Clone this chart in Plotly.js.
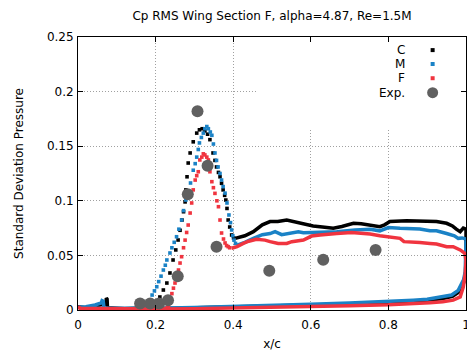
<!DOCTYPE html>
<html>
<head>
<meta charset="utf-8">
<script src="https://cdn.plot.ly/plotly-3.0.1.min.js"></script>
<style>html,body{margin:0;padding:0;background:#fff;}#chart{width:467px;height:356px;}</style>
</head>
<body>
<div id="chart"></div>
<script>
// ---------- Data ----------
// C (black): upper surface before transition, peak region, after peak, lower surface (TE -> LE)
const cLowX  = [0.0, 0.02, 0.04, 0.06, 0.070, 0.072, 0.073, 0.075, 0.076, 0.09, 0.12, 0.15, 0.18, 0.20, 0.206];
const cLowY  = [0.003, 0.002, 0.003, 0.005, 0.007, 0.004, 0.011, 0.010, 0.002, 0.0015, 0.0012, 0.0015, 0.002, 0.004, 0.0073];
const cPeakX = [0.206, 0.211, 0.220, 0.229, 0.237, 0.245, 0.252, 0.258, 0.263, 0.268, 0.272, 0.276, 0.278, 0.281, 0.284, 0.289, 0.297, 0.306, 0.313, 0.320, 0.327, 0.334, 0.340, 0.348, 0.353, 0.357, 0.362, 0.366, 0.370, 0.374, 0.378, 0.381, 0.384, 0.387, 0.391, 0.396, 0.401];
const cPeakY = [0.0073, 0.0119, 0.0183, 0.0247, 0.0339, 0.0458, 0.055, 0.0641, 0.073, 0.0824, 0.090, 0.099, 0.110, 0.122, 0.1346, 0.1438, 0.154, 0.162, 0.165, 0.166, 0.164, 0.161, 0.156, 0.1438, 0.137, 0.131, 0.126, 0.122, 0.116, 0.110, 0.105, 0.1007, 0.093, 0.0824, 0.076, 0.0687, 0.066];
const cAftX  = [0.405, 0.43, 0.452, 0.475, 0.495, 0.515, 0.538, 0.555, 0.572, 0.606, 0.63, 0.658, 0.68, 0.71, 0.73, 0.753, 0.778, 0.79, 0.804, 0.847, 0.899, 0.924, 0.95, 0.965, 0.975, 0.985, 0.993, 1.0];
const cAftY  = [0.0656, 0.068, 0.0717, 0.078, 0.081, 0.081, 0.0824, 0.081, 0.0794, 0.0769, 0.076, 0.0748, 0.0765, 0.0794, 0.079, 0.0778, 0.0763, 0.078, 0.081, 0.0818, 0.081, 0.081, 0.0794, 0.077, 0.074, 0.0717, 0.075, 0.074];
const cBotX  = [1.0, 0.999, 0.995, 0.989, 0.98, 0.965, 0.94, 0.9, 0.85, 0.8, 0.7, 0.6, 0.5, 0.4, 0.3, 0.2, 0.1, 0.05, 0.01, 0.0];
const cBotY  = [0.05, 0.035, 0.026, 0.020, 0.016, 0.0125, 0.0105, 0.0088, 0.0078, 0.0068, 0.0055, 0.0045, 0.0035, 0.0026, 0.0018, 0.0012, 0.001, 0.001, 0.0015, 0.003];

// M (blue)
const mLowX  = [0.0, 0.02, 0.044, 0.06, 0.062, 0.065, 0.067, 0.09, 0.12, 0.15, 0.17, 0.18, 0.186];
const mLowY  = [0.0025, 0.003, 0.0046, 0.0065, 0.0085, 0.008, 0.002, 0.0012, 0.0012, 0.0015, 0.003, 0.0055, 0.0092];
const mPeakX = [0.186, 0.191, 0.197, 0.203, 0.208, 0.214, 0.220, 0.225, 0.229, 0.237, 0.242, 0.248, 0.254, 0.260, 0.267, 0.272, 0.278, 0.284, 0.290, 0.297, 0.302, 0.306, 0.310, 0.313, 0.318, 0.323, 0.327, 0.332, 0.336, 0.341, 0.345, 0.349, 0.353, 0.357, 0.361, 0.366, 0.370, 0.374, 0.379, 0.384, 0.389, 0.393, 0.396, 0.399, 0.402, 0.406];
const mPeakY = [0.0092, 0.0137, 0.0175, 0.0213, 0.026, 0.031, 0.0366, 0.041, 0.0458, 0.0522, 0.057, 0.062, 0.0671, 0.074, 0.0824, 0.091, 0.1007, 0.108, 0.1163, 0.128, 0.134, 0.140, 0.147, 0.153, 0.158, 0.162, 0.166, 0.168, 0.166, 0.163, 0.160, 0.152, 0.1438, 0.137, 0.131, 0.125, 0.119, 0.113, 0.107, 0.098, 0.087, 0.080, 0.0733, 0.068, 0.064, 0.061];
const mAftX  = [0.410, 0.43, 0.452, 0.475, 0.495, 0.508, 0.525, 0.542, 0.568, 0.581, 0.6, 0.628, 0.667, 0.714, 0.753, 0.778, 0.8, 0.83, 0.86, 0.881, 0.907, 0.924, 0.95, 0.97, 0.98, 0.99, 1.0];
const mAftY  = [0.0595, 0.062, 0.0656, 0.069, 0.070, 0.0717, 0.069, 0.070, 0.0717, 0.0708, 0.071, 0.0717, 0.0717, 0.0733, 0.074, 0.0725, 0.0755, 0.0748, 0.0748, 0.0742, 0.0725, 0.0725, 0.070, 0.068, 0.0656, 0.066, 0.065];
const mBotX  = [1.0, 0.998, 0.994, 0.989, 0.98, 0.963, 0.933, 0.9, 0.864, 0.8, 0.7, 0.6, 0.5, 0.4, 0.3, 0.2, 0.1, 0.05, 0.01, 0.0];
const mBotY  = [0.045, 0.035, 0.028, 0.024, 0.018, 0.0137, 0.0116, 0.0098, 0.009, 0.0078, 0.0065, 0.0053, 0.004, 0.003, 0.0022, 0.0015, 0.0012, 0.0012, 0.0015, 0.0025];

// F (red)
const fLowX  = [0.0, 0.01, 0.05, 0.1, 0.15, 0.2, 0.222, 0.228, 0.233];
const fLowY  = [0.003, 0.001, 0.0008, 0.0008, 0.0008, 0.001, 0.0012, 0.0018, 0.003];
const fPeakX = [0.233, 0.237, 0.242, 0.246, 0.250, 0.255, 0.259, 0.263, 0.267, 0.272, 0.276, 0.280, 0.284, 0.289, 0.293, 0.297, 0.302, 0.306, 0.310, 0.314, 0.319, 0.323, 0.327, 0.332, 0.336, 0.340, 0.345, 0.349, 0.353, 0.358, 0.362, 0.366, 0.370, 0.375, 0.379, 0.383, 0.387, 0.391];
const fPeakY = [0.003, 0.0092, 0.015, 0.020, 0.0247, 0.031, 0.0366, 0.043, 0.0488, 0.057, 0.064, 0.071, 0.0778, 0.0888, 0.098, 0.110, 0.119, 0.123, 0.1266, 0.1374, 0.140, 0.143, 0.142, 0.140, 0.1374, 0.1266, 0.1175, 0.112, 0.1068, 0.100, 0.0946, 0.0824, 0.0705, 0.065, 0.0614, 0.059, 0.058, 0.057];
const fAftX  = [0.396, 0.41, 0.426, 0.44, 0.46, 0.482, 0.495, 0.516, 0.538, 0.551, 0.581, 0.602, 0.624, 0.654, 0.667, 0.705, 0.73, 0.753, 0.778, 0.796, 0.83, 0.84, 0.864, 0.881, 0.907, 0.924, 0.95, 0.967, 0.985, 0.997];
const fAftY  = [0.0565, 0.058, 0.061, 0.063, 0.0647, 0.064, 0.0626, 0.061, 0.061, 0.0626, 0.064, 0.0677, 0.0687, 0.070, 0.070, 0.071, 0.0705, 0.0696, 0.068, 0.067, 0.0656, 0.0626, 0.0617, 0.0617, 0.061, 0.0604, 0.058, 0.058, 0.055, 0.052];
const fBotX  = [1.0, 0.998, 0.993, 0.985, 0.967, 0.94, 0.907, 0.85, 0.8, 0.7, 0.6, 0.5, 0.4, 0.3, 0.2, 0.1, 0.03, 0.005, 0.0];
const fBotY  = [0.045, 0.033, 0.021, 0.012, 0.009, 0.0075, 0.0067, 0.0056, 0.0048, 0.004, 0.0032, 0.0025, 0.0018, 0.0012, 0.0009, 0.0008, 0.0008, 0.0015, 0.003];

// Experiment
const expX = [0.16, 0.186, 0.209, 0.232, 0.257, 0.283, 0.308, 0.334, 0.357, 0.493, 0.632, 0.767];
const expY = [0.006, 0.006, 0.006, 0.009, 0.031, 0.106, 0.182, 0.132, 0.058, 0.036, 0.046, 0.055];

const seriesNames = ['C', 'M', 'F', 'Exp.'];
const xTicks = [0, 0.2, 0.4, 0.6, 0.8, 1];
const yTicks = [0, 0.05, 0.1, 0.15, 0.2, 0.25];

// ---------- Styling ----------
const colC = '#000000', colM = '#1a82c6', colF = '#f0343f', colE = '#606060';
const FONT = 'DejaVu Sans, Verdana, sans-serif';

function seriesTraces(name, color, lowX, lowY, peakX, peakY, aftX, aftY, botX, botY) {
  return [
    { // continuous (dense) part: after-peak upper surface -> trailing edge -> lower surface -> leading-edge upper
      x: aftX.concat(botX, lowX), y: aftY.concat(botY, lowY),
      type: 'scatter', mode: 'lines', name: name, showlegend: false,
      line: { color: color, width: 3.5 }, hoverinfo: 'skip'
    },
    { // sparse dotted part (steep rise and peak)
      x: peakX, y: peakY, type: 'scatter', mode: 'markers', name: name, showlegend: false,
      marker: { symbol: 'square', size: 3.6, color: color, line: { width: 0 } }
    }
  ];
}

const data = []
  .concat(seriesTraces(seriesNames[0], colC, cLowX, cLowY, cPeakX, cPeakY, cAftX, cAftY, cBotX, cBotY))
  .concat(seriesTraces(seriesNames[1], colM, mLowX, mLowY, mPeakX, mPeakY, mAftX, mAftY, mBotX, mBotY))
  .concat(seriesTraces(seriesNames[2], colF, fLowX, fLowY, fPeakX, fPeakY, fAftX, fAftY, fBotX, fBotY))
  .concat([{ x: expX, y: expY, type: 'scatter', mode: 'markers', name: seriesNames[3], showlegend: false,
             marker: { symbol: 'circle', size: 12, color: colE, line: { width: 0 } } }]);

// Legend drawn gnuplot-style (text on the left, sample on the right)
const legColors = [colC, colM, colF, colE];
const legY = [0.952, 0.901, 0.849, 0.796];
const legTextX = 0.847, legSymX = 0.914;
const annotations = seriesNames.map((n, i) => ({
  text: n, xref: 'paper', yref: 'paper', x: legTextX, y: legY[i], xanchor: 'right', yanchor: 'middle',
  showarrow: false, font: { family: FONT, size: 12, color: '#000' }
}));
const shapes = [
  { type: 'rect', xref: 'x', yref: 'y', x0: 0.461, x1: 1, y0: 0.165, y1: 0.25,
    fillcolor: '#ffffff', line: { width: 0 }, layer: 'between' }
].concat(seriesNames.map((n, i) => {
  const r = i < 3 ? 2 : 5.5;
  return { type: i < 3 ? 'rect' : 'circle', xref: 'paper', yref: 'paper',
    xsizemode: 'pixel', ysizemode: 'pixel', xanchor: legSymX, yanchor: legY[i],
    x0: -r, x1: r, y0: -r, y1: r, fillcolor: legColors[i], line: { width: 0 } };
}));

const axisCommon = {
  showline: true, mirror: 'allticks', linecolor: '#000', linewidth: 1,
  ticks: 'inside', ticklen: 5, tickwidth: 1, tickcolor: '#000',
  showgrid: true, gridcolor: '#a0a0a0', gridwidth: 1, griddash: '1px,2px',
  zeroline: false, tickfont: { family: FONT, size: 12, color: '#000' }, automargin: false,
  ticklabeloverflow: 'allow'
};

const layout = {
  width: 467, height: 356,
  margin: { l: 78, r: 1, t: 37, b: 46, pad: 0 },
  paper_bgcolor: '#fff', plot_bgcolor: '#fff',
  showlegend: false,
  title: { text: 'Cp RMS Wing Section F, alpha=4.87, Re=1.5M', x: 0.5, xref: 'paper', xanchor: 'center',
           y: 1 - 16 / 356, yref: 'container', yanchor: 'middle', font: { family: FONT, size: 12, color: '#000' } },
  xaxis: Object.assign({}, axisCommon, { range: [0, 1], tickvals: xTicks, ticktext: xTicks.map(String),
           ticklabelstandoff: 4,
           title: { text: 'x/c', font: { family: FONT, size: 12, color: '#000' }, standoff: 8 } }),
  yaxis: Object.assign({}, axisCommon, { range: [0, 0.25], tickvals: yTicks, ticktext: yTicks.map(String),
           ticklabelstandoff: 1,
           title: { text: 'Standard Deviation Pressure', font: { family: FONT, size: 12, color: '#000' }, standoff: 20 } }),
  annotations: annotations,
  shapes: shapes
};

Plotly.newPlot('chart', data, layout, { staticPlot: true, displayModeBar: false });
</script>
</body>
</html>
